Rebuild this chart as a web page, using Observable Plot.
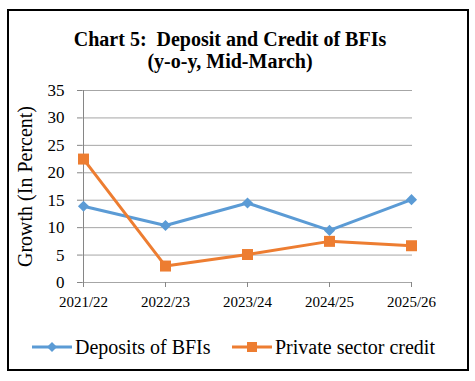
<!DOCTYPE html>
<html>
<head>
<meta charset="utf-8">
<script src="https://cdn.jsdelivr.net/npm/d3@7"></script>
<script src="https://cdn.jsdelivr.net/npm/@observablehq/plot@0.6"></script>
<style>
  html, body { margin: 0; padding: 0; background: #fff; }
  body { width: 475px; height: 381px; position: relative; overflow: hidden; font-family: "Liberation Serif", "Times New Roman", serif; }
  #frame { position: absolute; left: 7px; top: 9px; width: 462px; height: 362px; box-sizing: border-box; border: 2px solid #000; }
  #title { position: absolute; left: 0; top: 28px; width: 460px; text-align: center; font-weight: bold; font-size: 20px; line-height: 22px; color: #000; }
  #chart { position: absolute; left: 0; top: 80px; }
  #legend { position: absolute; top: 336px; left: 0; width: 475px; height: 22px; font-size: 20px; color: #000; }
  .item { position: absolute; top: 0; display: flex; align-items: center; height: 22px; white-space: nowrap; }
  .item svg { margin-right: 3px; }
</style>
</head>
<body>
<div id="frame"></div>
<div id="title">Chart 5:&nbsp; Deposit and Credit of BFIs<br>(y-o-y, Mid-March)</div>
<div id="chart"></div>
<div id="legend"></div>
<script>
const years = ["2021/22", "2022/23", "2023/24", "2024/25", "2025/26"];
const deposits = [13.9, 10.4, 14.5, 9.5, 15.1];
const credit = [22.5, 3.0, 5.1, 7.5, 6.7];
const seriesNames = ["Deposits of BFIs", "Private sector credit"];
const yTicks = [0, 5, 10, 15, 20, 25, 30, 35];
const yLabel = "Growth (In Percent)";
const colors = ["#5B9BD5", "#ED7D31"];

const rows = [];
years.forEach((y, i) => {
  rows.push({year: y, value: deposits[i], series: seriesNames[0]});
  rows.push({year: y, value: credit[i], series: seriesNames[1]});
});
const depRows = rows.filter(d => d.series === seriesNames[0]);
const credRows = rows.filter(d => d.series === seriesNames[1]);

const chart = Plot.plot({
  width: 475,
  height: 232,
  marginLeft: 82,
  marginRight: 63,
  marginTop: 10,
  marginBottom: 30,
  style: {background: "transparent", overflow: "visible"},
  x: {type: "point", domain: years, padding: 0},
  y: {domain: [0, 35]},
  marks: [
    Plot.gridY(yTicks.filter(t => t > 0), {stroke: "#a6a6a6", strokeOpacity: 1, strokeWidth: 1}),
    Plot.ruleX([years[0]], {stroke: "#868686", strokeWidth: 1}),
    Plot.ruleY([0], {stroke: "#a6a6a6", strokeWidth: 1.2}),
    Plot.axisY(yTicks, {tickSize: 5, tickPadding: 13, stroke: "#868686", fontSize: 17, fill: "#000", fontFamily: "Liberation Serif", label: null}),
    Plot.axisX(years, {tickSize: 5, tickPadding: 9, stroke: "#868686", fontSize: 15, fill: "#000", fontFamily: "Liberation Serif", label: null}),
    Plot.text([yLabel], {frameAnchor: "left", text: d => d, rotate: -90, textAnchor: "middle", dx: -57, fontSize: 20, fill: "#000", fontFamily: "Liberation Serif"}),
    Plot.line(depRows, {x: "year", y: "value", stroke: colors[0], strokeWidth: 3}),
    Plot.line(credRows, {x: "year", y: "value", stroke: colors[1], strokeWidth: 3}),
    Plot.dot(depRows, {x: "year", y: "value", symbol: d3.symbolDiamond2, r: 5, fill: colors[0], stroke: "none"}),
    Plot.dot(credRows, {x: "year", y: "value", symbol: "square", r: 6.2, fill: colors[1], stroke: "none"})
  ]
});
document.getElementById("chart").appendChild(chart);

// legend
const legend = document.getElementById("legend");
const lefts = [32, 232];
seriesNames.forEach((name, i) => {
  const item = document.createElement("div");
  item.className = "item";
  item.style.left = lefts[i] + "px";
  const sw = d3.create("svg").attr("width", 40).attr("height", 14);
  sw.append("line").attr("x1", 0).attr("x2", 40).attr("y1", 7).attr("y2", 7).attr("stroke", colors[i]).attr("stroke-width", 3);
  if (i === 0) {
    sw.append("path").attr("d", "M20,2 L25,7 L20,12 L15,7 Z").attr("fill", colors[i]);
  } else {
    sw.append("rect").attr("x", 15).attr("y", 2).attr("width", 10).attr("height", 10).attr("fill", colors[i]);
  }
  item.appendChild(sw.node());
  const t = document.createElement("span");
  t.textContent = name;
  item.appendChild(t);
  legend.appendChild(item);
});
</script>
</body>
</html>
